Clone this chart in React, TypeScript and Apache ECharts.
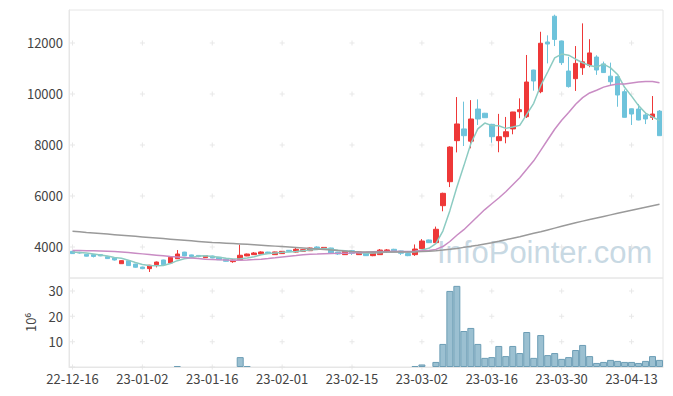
import React, { useEffect, useRef } from 'react';
import * as echarts from 'echarts';

const dates = [
  '22-12-16','22-12-19','22-12-20','22-12-21','22-12-22','22-12-23','22-12-26','22-12-27','22-12-28','22-12-29',
  '23-01-02','23-01-03','23-01-04','23-01-05','23-01-06','23-01-09','23-01-10','23-01-11','23-01-12','23-01-13',
  '23-01-16','23-01-17','23-01-18','23-01-19','23-01-20','23-01-25','23-01-26','23-01-27','23-01-30','23-01-31',
  '23-02-01','23-02-02','23-02-03','23-02-06','23-02-07','23-02-08','23-02-09','23-02-10','23-02-13','23-02-14',
  '23-02-15','23-02-16','23-02-17','23-02-20','23-02-21','23-02-22','23-02-23','23-02-24','23-02-27','23-02-28',
  '23-03-02','23-03-03','23-03-06','23-03-07','23-03-08','23-03-09','23-03-10','23-03-13','23-03-14','23-03-15',
  '23-03-16','23-03-17','23-03-20','23-03-21','23-03-22','23-03-23','23-03-24','23-03-27','23-03-28','23-03-29',
  '23-03-30','23-03-31','23-04-03','23-04-04','23-04-05','23-04-06','23-04-07','23-04-10','23-04-11','23-04-12',
  '23-04-13','23-04-14','23-04-17','23-04-18','23-04-19'
];

const openP = [
  3830,3790,3710,3700,3700,3620,3570,3345,3460,3330,
  3215,3150,3305,3490,3375,3540,3800,3690,3670,3580,
  3645,3595,3530,3425,3500,3650,3700,3725,3800,3700,
  3740,3870,3800,3830,3855,4000,3950,3960,3800,3700,
  3855,3700,3775,3660,3700,3845,3910,3845,3740,3700,
  3935,4275,4170,5620,6560,8170,8630,8150,9410,9245,
  8810,8170,8325,8630,9305,9110,10940,10090,12040,13050,
  12080,10900,10600,11030,11130,11450,11180,10700,10680,10090,
  9420,9410,9180,9085,9330
];
const closeP = [
  3740,3765,3640,3630,3650,3545,3490,3465,3270,3205,
  3150,3285,3410,3305,3595,3725,3650,3630,3625,3660,
  3570,3500,3440,3490,3675,3725,3765,3805,3740,3805,
  3830,3830,3910,3895,3960,3935,3985,3765,3725,3830,
  3755,3805,3660,3775,3880,3885,3830,3755,3660,3920,
  4235,4170,4695,6105,7920,8825,8365,9020,9020,9070,
  8325,8325,8520,9295,9385,10470,10510,11990,11960,12140,
  11230,10290,11200,11260,11610,10940,10840,10480,9960,9085,
  9215,8980,9020,9215,8365
];
const lowP = [
  3730,3740,3630,3590,3640,3530,3470,3340,3260,3190,
  3130,3020,3200,3300,3360,3530,3640,3620,3600,3570,
  3560,3490,3430,3380,3490,3640,3690,3715,3730,3690,
  3730,3820,3780,3820,3840,3920,3940,3750,3690,3690,
  3690,3690,3650,3640,3690,3770,3820,3690,3640,3650,
  3920,4160,4150,5400,6350,7710,7960,7870,8785,9060,
  8090,7715,8067,8420,9050,9060,10130,10030,11200,11880,
  11140,10250,10120,10750,11050,10750,10830,10350,9500,9080,
  8785,8970,8820,8980,8360
];
const highP = [
  3850,3810,3720,3710,3710,3630,3580,3480,3470,3340,
  3230,3300,3430,3500,3610,3880,3810,3700,3680,3680,
  3660,3610,3540,3530,4090,3740,3800,3830,3810,3815,
  3840,3880,3960,3905,3980,4030,3995,3970,3810,3850,
  3870,3820,3790,3800,3920,3920,3930,3855,3750,4100,
  4310,4290,4800,6130,7950,9880,9700,9760,9790,9260,
  8830,9220,9100,9300,9830,11530,10950,12440,12300,13110,
  12090,11460,11880,12770,12150,11520,11270,11230,10690,10180,
  9430,9610,9270,9920,9370
];
// volume, millions of shares
const volume = [
  0.1,0.1,0.1,0.1,0.1,0.1,0.1,0.1,0.1,0.1,
  0.1,0.1,0.1,0.1,0.1,0.4,0.1,0.1,0.1,0.1,
  0.1,0.1,0.1,0.1,3.9,0.4,0.1,0.1,0.1,0.1,
  0.1,0.1,0.1,0.1,0.1,0.1,0.1,0.1,0.1,0.1,
  0.1,0.1,0.1,0.1,0.1,0.1,0.1,0.1,0.1,0.4,
  1.0,0.1,2.0,9.1,30.0,32.0,14.2,15.4,9.1,3.6,
  3.9,8.3,4.3,8.3,5.5,13.8,3.6,12.6,4.7,5.5,
  3.2,3.9,6.7,8.7,4.3,1.6,2.0,2.8,2.4,2.0,
  2.0,1.6,2.4,4.3,2.8
];
// moving averages before enough visible closes exist
const ma5Head = [3800,3785,3760,3725];
const ma20Head = [3860,3858,3855,3850,3845,3835,3820,3800,3780,3755,3730,3705,3680,3655,3630,3610,3590,3570,3548];
// 120-day moving average
const ma120 = [
  4615,4595,4572,4550,4528,4506,4484,4462,4440,4418,4396,4374,4352,4330,4308,4286,4264,4242,4220,4198,4176,
  4162,4148,4134,4120,4105,4088,4070,4052,4034,4015,3996,3977,3958,3939,3920,3900,3880,3860,3840,3820,
  3810,3806,3803,3801,3800,3800,3802,3806,3812,3820,
  3835,3855,3880,3910,3945,3985,4025,4070,4120,4170,4225,4285,4345,4405,4470,4535,4600,4670,4740,4810,
  4880,4950,5015,5080,5140,5200,5260,5320,5380,5440,5500,5560,5620,5680
];
const priceTicks = [4000, 6000, 8000, 10000, 12000];
const volTicks = [10, 20, 30];
const gridXIdx = [0, 10, 20, 30, 40, 50, 60, 70, 80];

function movingAvg(n: number, head: number[]) {
  return closeP.map((_, i) => {
    if (i < n - 1) return head[i];
    let s = 0;
    for (let k = i - n + 1; k <= i; k++) s += closeP[k];
    return Math.round(s / n);
  });
}

const FONT = "'Noto Sans CJK KR', 'Noto Sans', sans-serif";
const LABEL = '#444';
const FRAME = '#e6e6e6';
const CROSS = 'path://M0,2h5v1h-5z M2,0h1v5h-1z';

export default function App() {
  const ref = useRef<HTMLDivElement>(null);
  useEffect(() => {
    const chart = echarts.init(ref.current!, null, { renderer: 'svg' });
    const candles = openP.map((o, i) => [o, closeP[i], lowP[i], highP[i]]);
    const crossPrice: number[][] = [];
    gridXIdx.forEach((x) => priceTicks.forEach((y) => crossPrice.push([x, y])));
    const crossVol: number[][] = [];
    gridXIdx.forEach((x) => [0, ...volTicks].forEach((y) => crossVol.push([x, y])));
    const volData = volume.map((v) => (v < 0.3 ? { value: v, itemStyle: { borderWidth: 0, color: 'rgba(0,0,0,0)' } } : v));

    chart.setOption({
      animation: false,
      backgroundColor: '#fff',
      textStyle: { fontFamily: FONT },
      grid: [
        { left: 69, right: 10, top: 10, height: 268, show: true, borderColor: FRAME, borderWidth: 1 },
        { left: 69, right: 10, top: 278, height: 89, show: true, borderColor: FRAME, borderWidth: 1 },
      ],
      graphic: [
        {
          type: 'text', left: 437, top: 237, z: 0, silent: true,
          style: { text: 'InfoPointer.com', font: "31px 'Liberation Sans', Arial, sans-serif", fill: 'rgba(176,200,215,0.7)' },
        },
      ],
      xAxis: [
        {
          type: 'category', gridIndex: 0, data: dates, boundaryGap: true,
          axisLine: { show: false }, axisTick: { show: false }, axisLabel: { show: false }, splitLine: { show: false },
        },
        {
          type: 'category', gridIndex: 1, data: dates, boundaryGap: true,
          axisLine: { show: true, lineStyle: { color: FRAME } }, axisTick: { show: false },
          splitLine: { show: false },
          axisLabel: {
            interval: (i: number) => i % 10 === 0,
            color: LABEL, fontSize: 13, margin: 5, fontFamily: FONT,
          },
        },
      ],
      yAxis: [
        {
          type: 'value', gridIndex: 0, min: 2784, max: 13294, scale: true,
          axisLine: { show: true, lineStyle: { color: FRAME } }, axisTick: { show: false },
          splitLine: { show: false },
          axisLabel: {
            customValues: priceTicks, formatter: (v: number) => String(v),
            color: LABEL, fontSize: 13, margin: 6, fontFamily: FONT,
          },
        },
        {
          type: 'value', gridIndex: 1, min: 0, max: 35.1,
          axisLine: { show: true, lineStyle: { color: FRAME } }, axisTick: { show: false },
          splitLine: { show: false },
          axisLabel: {
            customValues: volTicks, formatter: (v: number) => String(v),
            color: LABEL, fontSize: 13, margin: 6, fontFamily: FONT,
          },
          name: '10⁶', nameLocation: 'middle', nameGap: 32, nameRotate: 90,
          nameTextStyle: { color: LABEL, fontSize: 13, fontFamily: FONT },
        },
      ],
      series: [
        {
          type: 'scatter', xAxisIndex: 0, yAxisIndex: 0, data: crossPrice, symbol: CROSS, symbolSize: 5,
          itemStyle: { color: '#e2e2e2' }, silent: true, z: 1,
        },
        {
          type: 'scatter', xAxisIndex: 1, yAxisIndex: 1, data: crossVol, symbol: CROSS, symbolSize: 5,
          itemStyle: { color: '#e2e2e2' }, silent: true, z: 1, clip: false,
        },
        {
          type: 'candlestick', xAxisIndex: 0, yAxisIndex: 0, data: candles, barWidth: 5,
          itemStyle: { color: '#ee3838', color0: '#6ec3db', borderColor: '#ee3838', borderColor0: '#6ec3db', borderWidth: 1 },
          z: 2,
        },
        {
          type: 'line', xAxisIndex: 0, yAxisIndex: 0, data: movingAvg(5, ma5Head), showSymbol: false,
          lineStyle: { color: '#8ccbc2', width: 1.5 }, z: 3,
        },
        {
          type: 'line', xAxisIndex: 0, yAxisIndex: 0, data: movingAvg(20, ma20Head), showSymbol: false,
          lineStyle: { color: '#c98cc4', width: 1.5 }, z: 3,
        },
        {
          type: 'line', xAxisIndex: 0, yAxisIndex: 0, data: ma120, showSymbol: false,
          lineStyle: { color: '#9a9a9a', width: 1.5 }, z: 3,
        },
        {
          type: 'bar', xAxisIndex: 1, yAxisIndex: 1, data: volData, barCategoryGap: '0%',
          itemStyle: { color: '#9bc0d1', borderColor: '#6c9db5', borderWidth: 1 },
          z: 2,
        },
      ],
    });
    return () => chart.dispose();
  }, []);
  return (
    <div
      ref={ref}
      style={{ position: 'fixed', left: 0, top: 0, width: 673, height: 396, background: '#fff' }}
    />
  );
}
